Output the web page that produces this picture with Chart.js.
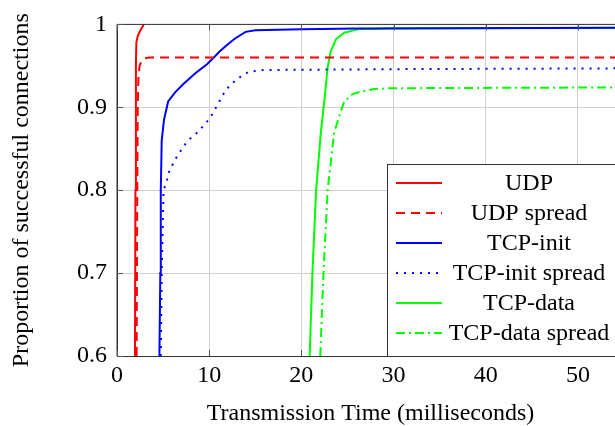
<!DOCTYPE html>
<html>
<head>
<meta charset="utf-8">
<script src="https://cdn.jsdelivr.net/npm/chart.js@4"></script>
<style>
  html, body { margin: 0; padding: 0; background: #fff; overflow: hidden; }
  #wrap { width: 630px; height: 426px; }
</style>
</head>
<body>
<div id="wrap"><canvas id="myChart" width="630" height="426"></canvas></div>
<script>
var xTicks = [0, 10, 20, 30, 40, 50];
var yTicks = [0.6, 0.7, 0.8, 0.9, 1];

var seriesNames = ["UDP", "UDP spread", "TCP-init", "TCP-init spread", "TCP-data", "TCP-data spread"];

var udpX = [1.95, 2.0, 2.05, 2.1, 2.25, 2.5, 2.7, 2.9];
var udpY = [0.6, 0.8, 0.95, 0.978, 0.986, 0.992, 0.996, 1.0];

var udpSpreadX = [2.13, 2.2, 2.25, 2.32, 2.45, 2.65, 3.0, 3.5, 55];
var udpSpreadY = [0.6, 0.8, 0.9, 0.935, 0.95, 0.956, 0.959, 0.96, 0.96];

var tcpInitX = [4.6, 4.7, 4.75, 4.85, 5.1, 5.55, 6.3, 7.2, 8.5, 9.76, 10.5, 11.1, 11.8, 12.8, 13.95, 15, 20, 26, 55];
var tcpInitY = [0.6, 0.7, 0.8, 0.86, 0.885, 0.907, 0.918, 0.928, 0.941, 0.952, 0.96, 0.967, 0.974, 0.983, 0.991, 0.993, 0.994, 0.995, 0.996];

var tcpInitSpreadX = [4.75, 4.85, 5.05, 5.4, 5.6, 6.3, 7.6, 8.86, 10.1, 10.7, 11.8, 13.0, 14.3, 16, 30, 55];
var tcpInitSpreadY = [0.6, 0.7, 0.8, 0.811, 0.821, 0.837, 0.859, 0.871, 0.887, 0.899, 0.921, 0.934, 0.943, 0.945, 0.946, 0.947];

var tcpDataX = [20.9, 21.2, 21.6, 22.1, 22.5, 22.85, 23.2, 23.75, 24.65, 26.1, 29.7, 55];
var tcpDataY = [0.6, 0.7, 0.8, 0.868, 0.909, 0.948, 0.968, 0.982, 0.99, 0.994, 0.995, 0.996];

var tcpDataSpreadX = [22.05, 22.4, 22.85, 23.55, 24.1, 24.65, 25.55, 26.5, 27.9, 29.7, 55];
var tcpDataSpreadY = [0.6, 0.7, 0.8, 0.869, 0.889, 0.907, 0.916, 0.919, 0.922, 0.923, 0.924];

var lineColors = ["#ff0000", "#ff0000", "#0000ff", "#0000ff", "#00ff00", "#00ff00"];
var lineDashes = [[], [9, 6], [], [2, 6], [], [9, 4, 2, 4]];

function pts(xs, ys) {
  var out = [];
  for (var i = 0; i < xs.length; i++) out.push({x: xs[i], y: ys[i]});
  return out;
}

var allX = [udpX, udpSpreadX, tcpInitX, tcpInitSpreadX, tcpDataX, tcpDataSpreadX];
var allY = [udpY, udpSpreadY, tcpInitY, tcpInitSpreadY, tcpDataY, tcpDataSpreadY];

var datasets = [];
for (var i = 0; i < seriesNames.length; i++) {
  datasets.push({
    label: seriesNames[i],
    data: pts(allX[i], allY[i]),
    borderColor: lineColors[i],
    borderDash: lineDashes[i],
    borderWidth: 2,
    pointRadius: 0,
    tension: 0,
    fill: false
  });
}

var serif = "'Liberation Serif', 'DejaVu Serif', serif";

// frame, inner tick marks and the boxed legend (pgfplots look)
var framePlugin = {
  id: "frame",
  afterDatasetsDraw: function(chart) {
    var ctx = chart.ctx;
    var a = chart.chartArea;
    var xs = chart.scales.x, ys = chart.scales.y;
    ctx.save();
    ctx.strokeStyle = "#333";
    ctx.lineWidth = 1;
    ctx.beginPath();
    ctx.moveTo(a.left, a.bottom);
    ctx.lineTo(a.left, a.top);
    ctx.lineTo(a.right, a.top);
    ctx.stroke();
    // tick marks
    ctx.strokeStyle = "#555";
    xTicks.forEach(function(v) {
      var px = Math.round(xs.getPixelForValue(v)) + 0.5;
      ctx.beginPath();
      ctx.moveTo(px, a.bottom); ctx.lineTo(px, a.bottom - 6);
      ctx.moveTo(px, a.top); ctx.lineTo(px, a.top + 6);
      ctx.stroke();
    });
    yTicks.forEach(function(v) {
      var py = Math.round(ys.getPixelForValue(v)) + 0.5;
      ctx.beginPath();
      ctx.moveTo(a.left, py); ctx.lineTo(a.left + 6, py);
      ctx.stroke();
    });

    // legend
    var bx = 387, by = 164, bw = 260, bh = a.bottom - 164;
    ctx.fillStyle = "#fff";
    ctx.fillRect(bx, by, bw, bh);
    ctx.strokeStyle = "#333";
    ctx.strokeRect(bx + 0.5, by + 0.5, bw, bh);
    ctx.font = "24px " + serif;
    ctx.textAlign = "center";
    ctx.textBaseline = "middle";
    chart.data.datasets.forEach(function(ds, k) {
      var cy = 183 + k * 30;
      ctx.strokeStyle = ds.borderColor;
      ctx.lineWidth = 2;
      ctx.setLineDash(ds.borderDash);
      ctx.beginPath();
      ctx.moveTo(396, cy); ctx.lineTo(442, cy);
      ctx.stroke();
      ctx.setLineDash([]);
      ctx.fillStyle = "#000";
      ctx.fillText(ds.label, 529, cy + 1);
    });
    ctx.restore();
  }
};

new Chart("myChart", {
  type: "line",
  data: { datasets: datasets },
  options: {
    responsive: false,
    animation: false,
    layout: { padding: { left: 0, top: 22, right: 6, bottom: 0 } },
    plugins: {
      legend: { display: false },
      tooltip: { enabled: false }
    },
    scales: {
      x: {
        type: "linear",
        min: 0,
        max: 55,
        afterBuildTicks: function(scale) { scale.ticks = xTicks.map(function(v) { return {value: v}; }); },
        afterFit: function(scale) { scale.height = 70; },
        grid: { color: "#d0d0d0", drawTicks: false },
        border: { color: "#333" },
        ticks: { color: "#000", padding: 5, font: { family: serif, size: 24 } },
        title: {
          display: true,
          text: "Transmission Time (milliseconds)",
          color: "#000",
          font: { family: serif, size: 24, lineHeight: 1 },
          padding: { top: 0, bottom: 0 }
        }
      },
      y: {
        min: 0.6,
        max: 1,
        afterBuildTicks: function(scale) { scale.ticks = yTicks.map(function(v) { return {value: v}; }); },
        afterFit: function(scale) { scale.width = 117; },
        grid: { color: "#d0d0d0", drawTicks: false },
        border: { color: "#333" },
        ticks: {
          color: "#000",
          padding: 10,
          font: { family: serif, size: 24 },
          callback: function(v) { return v === 1 ? "1" : v.toFixed(1); }
        },
        title: {
          display: true,
          text: "Proportion of successful connections",
          color: "#000",
          font: { family: serif, size: 24, lineHeight: 1 },
          padding: { top: 10, bottom: 0 }
        }
      }
    }
  },
  plugins: [framePlugin]
});
</script>
</body>
</html>
